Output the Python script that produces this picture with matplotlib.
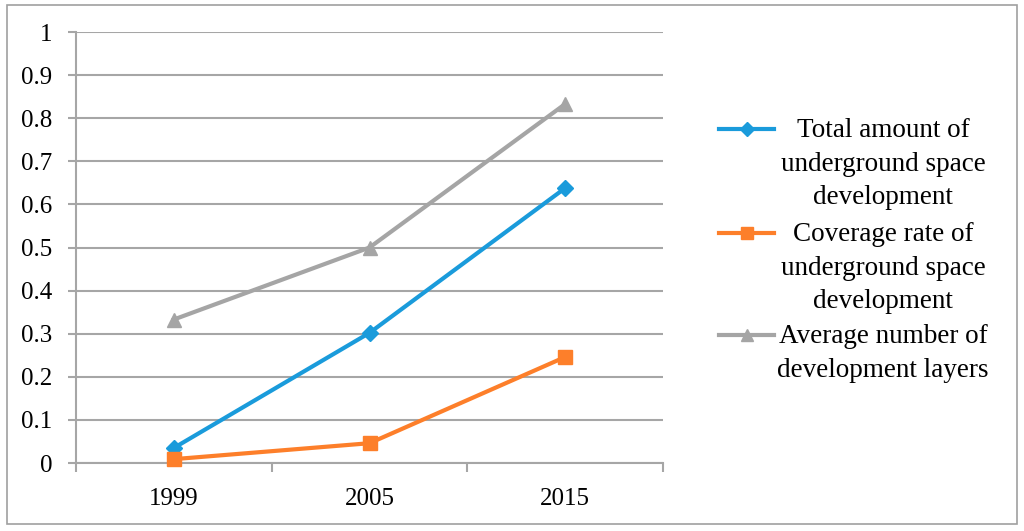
import matplotlib
matplotlib.use("Agg")
import matplotlib.pyplot as plt
from matplotlib.lines import Line2D
from matplotlib.patches import Rectangle

# data
years = ["1999", "2005", "2015"]
total_amount = [0.035, 0.302, 0.638]
coverage_rate = [0.009, 0.046, 0.246]
avg_layers = [0.333, 0.500, 0.833]

labels = [
    "Total amount of\nunderground space\ndevelopment",
    "Coverage rate of\nunderground space\ndevelopment",
    "Average number of\ndevelopment layers",
]
colors = ["#1A9BDB", "#FD7F2A", "#A5A5A5"]
markers = ["D", "s", "^"]
msizes = [8, 10, 10]

plt.rcParams['font.family'] = ['Liberation Serif', 'DejaVu Serif']
grid_col = "#A6A6A6"

fig = plt.figure(figsize=(10.24, 5.31), dpi=100)
ax = fig.add_axes([0.0742, 0.128, 0.5733, 0.8117])

x = [0.5, 1.5, 2.5]
series = [total_amount, coverage_rate, avg_layers]
for vals, c, m, ms in zip(series, colors, markers, msizes):
    ax.plot(x, vals, color=c, lw=3, marker=m, ms=ms, mec=c, mfc=c, zorder=3,
            clip_on=False)

ax.set_xlim(0, 3)
ax.set_ylim(0, 1)
ax.set_yticks([i / 10 for i in range(11)])
ax.set_yticklabels(["0"] + ["0.%d" % i for i in range(1, 10)] + ["1"])
ax.set_xticks([0, 1, 2, 3])
ax.set_xticklabels([])
ax.set_xticks(x, minor=True)
ax.set_xticklabels(years, minor=True)
ax.tick_params(axis='x', which='minor', length=0, pad=18, labelsize=18)
ax.tick_params(axis='x', which='major', length=6.5, width=1.5, color=grid_col, direction='out')
ax.tick_params(axis='y', length=6, width=1.5, color=grid_col, direction='out',
               labelsize=18, pad=11)
ax.yaxis.grid(True, color=grid_col, lw=1.5)
ax.set_axisbelow(True)
for s in ["top", "right"]:
    ax.spines[s].set_visible(False)
for s in ["left", "bottom"]:
    ax.spines[s].set_color(grid_col)
    ax.spines[s].set_linewidth(1.5)

# legend, drawn by hand so each handle sits on the first line of its label
W, H = 1024.0, 531.0
hy = [129, 233, 335]
for lab, c, m, ms, yy in zip(labels, colors, markers, msizes, hy):
    fy = 1 - yy / H
    fig.add_artist(Line2D([719 / W, 774 / W], [fy, fy], color=c, lw=3,
                          transform=fig.transFigure))
    fig.add_artist(Line2D([747 / W], [fy], color=c, marker=m, ms=ms * 0.85,
                          mec=c, mfc=c, transform=fig.transFigure))
    fig.text(883 / W, 1 - (yy - 11) / H, lab, ha='center', va='top', fontsize=19.5,
             multialignment='center', linespacing=1.46,
             transform=fig.transFigure)

# outer frame
fig.add_artist(Rectangle((7 / W, 1 - 524 / H), 1010 / W, 519 / H, fill=False,
                         ec="#A0A0A0", lw=1.2, transform=fig.transFigure))

fig.savefig("out.png", dpi=100)
